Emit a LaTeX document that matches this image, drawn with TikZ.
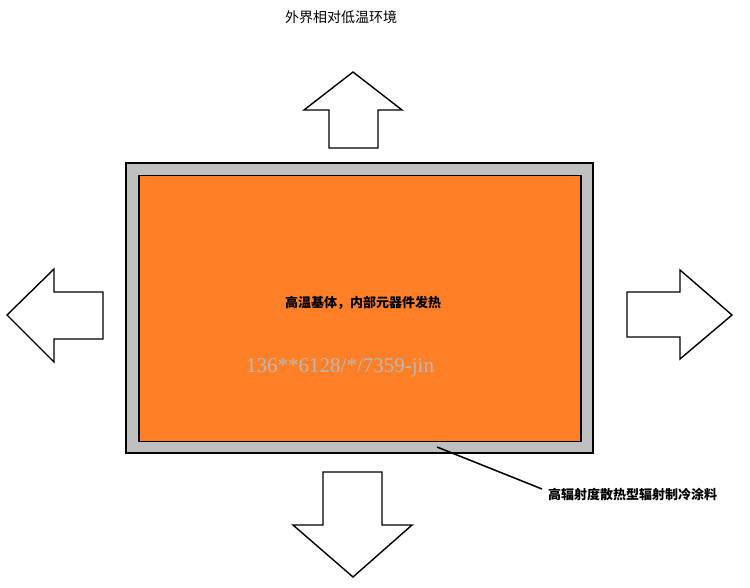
\documentclass[tikz,border=0pt]{standalone}
\usepackage{fontspec}
\setmainfont{Liberation Serif}
\newfontfamily\cjk{Noto Sans CJK SC}
\usetikzlibrary{positioning}
\definecolor{hotorange}{RGB}{255,127,39}
\definecolor{coatgray}{RGB}{192,192,192}
\definecolor{markgray}{RGB}{185,185,185}
\tikzset{x=1pt,y=-1pt,
    every node/.style={inner sep=0pt},
    coating/.style={
        draw,
        line width=2pt,
        fill=coatgray},
    substrate/.style={
        draw,
        line width=1.6pt,
        fill=hotorange},
    heat/.style={
        draw,
        line width=1.4pt,
        fill=white,
        line join=miter},
    cntext/.style={font=\cjk\fontsize{14}{16}\selectfont},
    cnbold/.style={font=\cjk\bfseries\fontsize{13}{15}\selectfont}}

\begin{document}
\begin{tikzpicture}
        \useasboundingbox (0,0) rectangle (750,587);

        \node[coating, minimum width=467pt, minimum height=290pt] (coat) at (359.5,308) {};
        \node[substrate, minimum width=442pt, minimum height=266pt] (base) at (360,308.5) {};

        \node[cntext] (env) at (341,17) {外界相对低温环境};
        \node[cnbold] (heatsrc) at (363,303) {高温基体，内部元器件发热};
        \node[text=markgray, font=\fontsize{21}{23}\selectfont, anchor=west] (mark) at (246,368) {136**6128/*/7359-jin};
        \node[cnbold, anchor=west] (coatlabel) at (548,494) {高辐射度散热型辐射制冷涂料};

        \coordinate (leadstart) at (437,447);
        \draw[line width=1.5pt] (leadstart) -- ([xshift=-6pt,yshift=5pt]coatlabel.west);

        % heat flow arrows
        \draw[heat] (353,72) -- (402,110) -- (378,110) -- (378,148) -- (329,148) -- (329,110) -- (304,110) -- cycle;
        \draw[heat] (7,315) -- (54,269) -- (54,292) -- (103,292) -- (103,339) -- (54,339) -- (54,362) -- cycle;
        \draw[heat] (732,315) -- (680,270) -- (680,292) -- (627,292) -- (627,337) -- (680,337) -- (680,359) -- cycle;
        \draw[heat] (353,577) -- (412,525) -- (382,525) -- (382,472) -- (323,472) -- (323,525) -- (293,525) -- cycle;
    \end{tikzpicture}
\end{document}
